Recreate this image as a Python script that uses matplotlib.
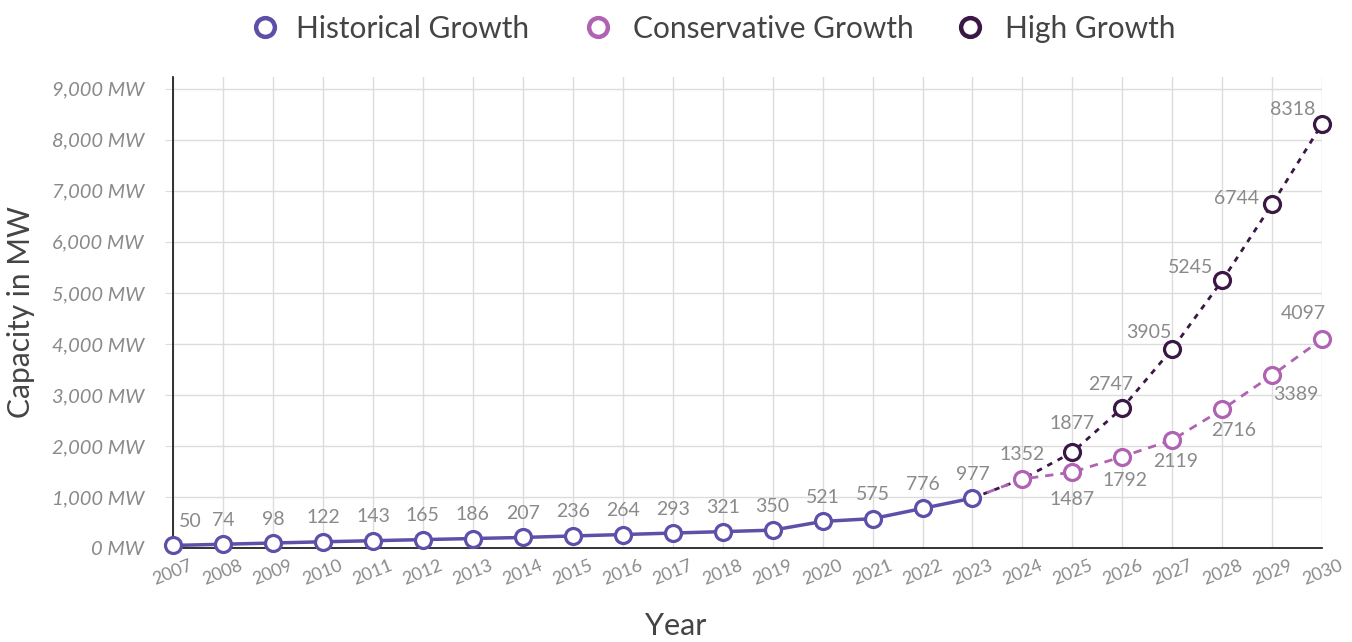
import matplotlib
matplotlib.use("Agg")
import matplotlib.pyplot as plt
from matplotlib.lines import Line2D
from matplotlib.ticker import FuncFormatter

# ---- data ----
hist_years = list(range(2007, 2024))
hist_values = [50, 74, 98, 122, 143, 165, 186, 207, 236, 264, 293, 321, 350, 521, 575, 776, 977]

cons_years = list(range(2023, 2031))
cons_values = [977, 1352, 1487, 1792, 2119, 2716, 3389, 4097]

high_years = list(range(2023, 2031))
high_values = [977, 1352, 1877, 2747, 3905, 5245, 6744, 8318]

y_ticks = list(range(0, 9001, 1000))
series_names = ["Historical Growth", "Conservative Growth", "High Growth"]

# ---- style ----
FONT = ["Lato", "DejaVu Sans"]
plt.rcParams["font.family"] = FONT
C_HIST = "#5e4fa8"
C_CONS = "#b062b3"
C_HIGH = "#3b1746"
C_LABEL = "#8a8a8a"
C_TEXT = "#444444"
C_GRID = "#dcdcdc"

W, H = 1352, 642
fig = plt.figure(figsize=(W / 100, H / 100), dpi=100)
ax = fig.add_axes([0.128, 0.1464, 0.850, 0.7336])

ax.set_xlim(2007, 2030)
ax.set_ylim(0, 9230)

marker_kw = dict(marker="o", markersize=11.5, markerfacecolor="white",
                 markeredgewidth=2.3, clip_on=False)

ax.plot(high_years, high_values, color=C_HIGH, lw=2.0, ls=(0, (2.0, 2.2)),
        markevery=list(range(2, len(high_years))), markeredgecolor=C_HIGH, zorder=3, **marker_kw)
ax.plot(cons_years, cons_values, color=C_CONS, lw=2.0, ls=(0, (3.0, 2.5)),
        markevery=list(range(1, len(cons_years))), markeredgecolor=C_CONS, zorder=4, **marker_kw)
ax.plot(hist_years, hist_values, color=C_HIST, lw=2.5, ls="-",
        markeredgecolor=C_HIST, zorder=5, **marker_kw)

# ---- value labels ----
lab_kw = dict(textcoords="offset pixels", ha="center", va="center",
              fontsize=14, color=C_LABEL, zorder=6)
for i, (x, v) in enumerate(zip(hist_years, hist_values)):
    dx = 17 if i == 0 else 0
    ax.annotate(str(v), (x, v), xytext=(dx, 24), **lab_kw)

cons_offsets = [None, (0, 25), (0, -27), (3, -24), (3, -22), (11, -21), (24, -19), (-19, 25)]
for x, v, off in zip(cons_years, cons_values, cons_offsets):
    if off is not None:
        ax.annotate(str(v), (x, v), xytext=off, **lab_kw)

high_offsets = [None, None, (0, 29), (-12, 23), (-24, 16), (-32, 13), (-36, 5), (-30, 14)]
for x, v, off in zip(high_years, high_values, high_offsets):
    if off is not None:
        ax.annotate(str(v), (x, v), xytext=off, **lab_kw)

# ---- axes ----
ax.set_xticks(range(2007, 2031))
ax.set_yticks(y_ticks)
ax.yaxis.set_major_formatter(FuncFormatter(lambda v, p: f"{int(v):,} MW"))
ax.grid(True, color=C_GRID, lw=1.0, zorder=0)
ax.set_axisbelow(True)
for s in ("top", "right"):
    ax.spines[s].set_visible(False)
for s in ("left", "bottom"):
    ax.spines[s].set_color("#111111")
    ax.spines[s].set_linewidth(1.2)
ax.tick_params(axis="y", length=6, color=C_GRID, pad=15, labelsize=14.5, labelcolor=C_LABEL)
ax.tick_params(axis="x", length=0, pad=7, labelsize=13, labelcolor=C_LABEL)
for t in ax.get_yticklabels():
    t.set_fontstyle("italic")
for t in ax.get_xticklabels():
    t.set_rotation(22)
    t.set_ha("center")

ax.set_ylabel("Capacity in MW", fontsize=21.5, color=C_TEXT, labelpad=12)
fig.text(0.5, 0.025, "Year", fontsize=22, color=C_TEXT, ha="center", va="center")

# ---- legend row (hand-placed keys) ----
marker_y = 1 - 27 / H
text_y = 1 - 29 / H
for name, color, mx, tx in zip(series_names, [C_HIST, C_CONS, C_HIGH],
                               [265, 598, 970], [296, 633, 1005]):
    fig.add_artist(Line2D([mx / W], [marker_y], transform=fig.transFigure, ls="none",
                          marker="o", markersize=13.5, markerfacecolor="white",
                          markeredgewidth=3.2, markeredgecolor=color))
    fig.text(tx / W, text_y, name, fontsize=21.5, color=C_TEXT, ha="left", va="center")

fig.savefig("out.png", dpi=100)
